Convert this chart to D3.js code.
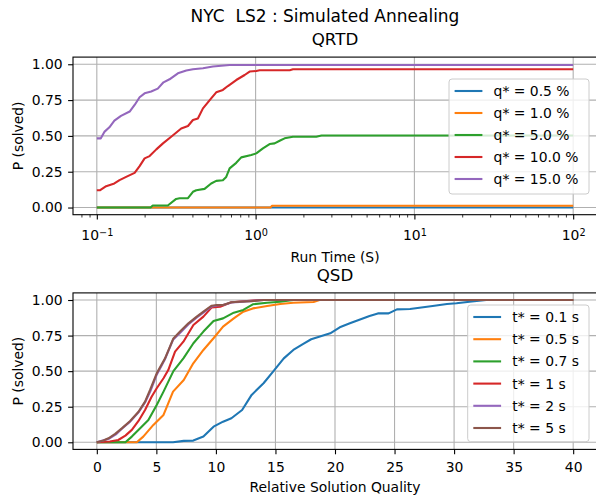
<!DOCTYPE html>
<html>
<head>
<meta charset="utf-8">
<script src="https://cdn.jsdelivr.net/npm/d3@7"></script>
<style>
  body { margin: 0; background: #fff; }
  svg { display: block; font-family: "DejaVu Sans", sans-serif; }
</style>
</head>
<body>
<div id="content"></div>
<script>
// ---- data ----
// QRTD : [run time (s), P(solved)]
const qLabels = ["q* = 0.5 %", "q* = 1.0 %", "q* = 5.0 %", "q* = 10.0 %", "q* = 15.0 %"]
const q05 = [[0.1, 0], [100, 0]]
const q10 = [[0.1, 0], [1.24, 0], [1.27, 0.012], [100, 0.012]]
const q50 = [[0.1, 0], [0.218, 0], [0.225, 0.014], [0.28, 0.014], [0.316, 0.06], [0.332, 0.065], [0.375, 0.065],
    [0.403, 0.11], [0.423, 0.121], [0.477, 0.13], [0.525, 0.168], [0.565, 0.186], [0.622, 0.191], [0.653, 0.214],
    [0.686, 0.273], [0.755, 0.312], [0.812, 0.35], [0.939, 0.366], [1.01, 0.378], [1.112, 0.413], [1.225, 0.443],
    [1.317, 0.448], [1.417, 0.466], [1.523, 0.483], [1.719, 0.494], [2.41, 0.494], [2.6, 0.503], [100, 0.503]]
const q100 = [[0.1, 0.121], [0.105, 0.121], [0.1145, 0.149], [0.129, 0.168], [0.139, 0.191], [0.153, 0.214],
    [0.173, 0.242], [0.186, 0.289], [0.2, 0.343], [0.215, 0.359], [0.237, 0.406], [0.261, 0.448], [0.294, 0.494],
    [0.34, 0.552], [0.375, 0.569], [0.403, 0.611], [0.433, 0.622], [0.466, 0.692], [0.525, 0.762], [0.565, 0.804],
    [0.622, 0.821], [0.669, 0.848], [0.755, 0.89], [0.853, 0.925], [0.917, 0.949], [1.01, 0.953], [1.06, 0.958],
    [1.64, 0.958], [1.72, 0.965], [100, 0.965]]
const q150 = [[0.1, 0.483], [0.106, 0.483], [0.112, 0.53], [0.12, 0.56], [0.129, 0.606], [0.142, 0.64],
    [0.161, 0.67], [0.173, 0.716], [0.186, 0.77], [0.2, 0.797], [0.22, 0.81], [0.242, 0.83], [0.263, 0.874],
    [0.287, 0.895], [0.324, 0.937], [0.366, 0.956], [0.403, 0.965], [0.466, 0.972], [0.538, 0.984],
    [0.686, 0.995], [100, 0.995]]
const timeTicks = [0.1, 1, 10, 100]
const timeTickExp = ["\u22121", "0", "1", "2"]

// QSD : [relative solution quality, P(solved)]
const tLabels = ["t* = 0.1 s", "t* = 0.5 s", "t* = 0.7 s", "t* = 1 s", "t* = 2 s", "t* = 5 s"]
const t01 = [[0, 0], [6.4, 0], [7.3, 0.01], [8.1, 0.012], [8.95, 0.04], [9.8, 0.11], [10.6, 0.145], [11.3, 0.169],
    [12.2, 0.227], [13.0, 0.333], [14.0, 0.415], [14.8, 0.497], [15.7, 0.59], [16.5, 0.649], [17.3, 0.69],
    [18.0, 0.724], [19.6, 0.766], [20.4, 0.808], [21.25, 0.836], [22.9, 0.888], [23.6, 0.906], [24.5, 0.906],
    [25.2, 0.934], [26.3, 0.937], [28.2, 0.958], [29.4, 0.972], [30.2, 0.977], [31.3, 0.988], [32.7, 1], [40, 1]]
const t05 = [[0, 0], [3.36, 0], [3.9, 0.04], [4.75, 0.122], [5.6, 0.192], [6.4, 0.356], [7.3, 0.438], [8.1, 0.555],
    [8.95, 0.649], [9.8, 0.731], [10.6, 0.813], [11.5, 0.871], [12.3, 0.918], [13.1, 0.941], [14.3, 0.958],
    [15.4, 0.972], [16.5, 0.981], [18.2, 0.986], [18.7, 1], [40, 1]]
const t07 = [[0, 0], [2.4, 0], [2.94, 0.04], [3.64, 0.098], [4.33, 0.157], [5.03, 0.262], [5.6, 0.356], [6.43, 0.5],
    [7.27, 0.59], [8.11, 0.696], [8.95, 0.778], [9.8, 0.852], [10.6, 0.871], [11.5, 0.911], [12.3, 0.93],
    [13.1, 0.97], [14.3, 0.981], [15.4, 0.988], [16.5, 1], [40, 1]]
const t1 = [[0, 0], [1.1, 0.005], [1.8, 0.016], [2.4, 0.047], [2.94, 0.087], [3.5, 0.15], [4.05, 0.227], [4.6, 0.32],
    [5.03, 0.38], [5.6, 0.45], [6.0, 0.508], [6.57, 0.637], [7.27, 0.707], [8.11, 0.824], [8.95, 0.883],
    [9.65, 0.948], [10.35, 0.953], [11.3, 0.984], [12.6, 0.993], [13.7, 1], [40, 1]]
const t2 = [[0, 0], [1, 0.025], [1.6, 0.055], [2.1, 0.095], [2.8, 0.145], [3.5, 0.21], [4.05, 0.28], [4.5, 0.36],
    [5.03, 0.475], [5.7, 0.58], [6.4, 0.72], [7.0, 0.77], [7.7, 0.83], [8.4, 0.878], [9.0, 0.915], [9.65, 0.955],
    [10.1, 0.962], [10.6, 0.965], [11.3, 0.982], [12, 0.987], [14, 1], [40, 1]]
const t5 = [[0, 0], [0.56, 0.012], [0.98, 0.028], [1.54, 0.059], [2.1, 0.098], [2.8, 0.15], [3.5, 0.215],
    [4.05, 0.286], [4.47, 0.368], [5.03, 0.485], [5.73, 0.59], [6.43, 0.73], [6.99, 0.778], [7.69, 0.836],
    [8.39, 0.883], [8.95, 0.918], [9.65, 0.96], [10.07, 0.965], [10.6, 0.965], [11.3, 0.984], [12, 0.988],
    [13, 0.992], [14, 1], [40, 1]]
const qualityTicks = [0, 5, 10, 15, 20, 25, 30, 35, 40]
const probTicks = [0, 0.25, 0.5, 0.75, 1]

const colors = ["#1f77b4", "#ff7f0e", "#2ca02c", "#d62728", "#9467bd", "#8c564b"]

// ---- layout ----
const outerWidth = 596
const outerHeight = 497
const fs = 13.9
const left = 73, right = 597
const topBox = {top: 57.1, bottom: 214.7}
const botBox = {top: 292.9, bottom: 449.4}

const svg = d3.select("#content").append("svg")
    .attr("width", outerWidth)
    .attr("height", outerHeight)

svg.append("text")
    .attr("x", 325).attr("y", 21.5)
    .attr("text-anchor", "middle")
    .style("font-size", "17px")
    .style("white-space", "pre")
    .text("NYC  LS2 : Simulated Annealing")

// scales
const xTime = d3.scaleLog().domain([Math.pow(10, -1.15), Math.pow(10, 2.15)]).range([left, right])
const xQual = d3.scaleLinear().domain([-2, 42]).range([left, right])
const yTop = d3.scaleLinear().domain([-0.05, 1.05]).range([topBox.bottom, topBox.top])
const yBot = d3.scaleLinear().domain([-0.05, 1.05]).range([botBox.bottom, botBox.top])

function clip(id, box) {
    svg.append("clipPath").attr("id", id)
      .append("rect")
        .attr("x", left).attr("y", box.top)
        .attr("width", right - left).attr("height", box.bottom - box.top)
}
clip("clipTop", topBox)
clip("clipBot", botBox)

function grid(xScale, xVals, yScale, box) {
    const g = svg.append("g")
        .attr("stroke", "#b0b0b0")
        .attr("stroke-width", 1.1)
    g.selectAll(".gx").data(xVals).enter().append("line")
        .attr("x1", d => xScale(d)).attr("x2", d => xScale(d))
        .attr("y1", box.top).attr("y2", box.bottom)
    g.selectAll(".gy").data(probTicks).enter().append("line")
        .attr("x1", left).attr("x2", right)
        .attr("y1", d => yScale(d)).attr("y2", d => yScale(d))
}
grid(xTime, timeTicks, yTop, topBox)
grid(xQual, qualityTicks, yBot, botBox)

function lines(series, xScale, yScale, clipId) {
    const line = d3.line().x(d => xScale(d[0])).y(d => yScale(d[1]))
    svg.append("g").attr("clip-path", `url(#${clipId})`)
      .selectAll("path")
      .data(series)
      .enter().append("path")
        .attr("d", line)
        .attr("fill", "none")
        .attr("stroke", (d, i) => colors[i])
        .attr("stroke-width", 2.1)
        .attr("stroke-linejoin", "round")
}
lines([q05, q10, q50, q100, q150], xTime, yTop, "clipTop")
lines([t01, t05, t07, t1, t2, t5], xQual, yBot, "clipBot")

// frames
function frame(box) {
    svg.append("rect")
        .attr("x", left).attr("y", box.top)
        .attr("width", right - left).attr("height", box.bottom - box.top)
        .attr("fill", "none")
        .attr("stroke", "#000")
        .attr("stroke-width", 1.1)
}
frame(topBox)
frame(botBox)

// axes
function styleAxis(sel) {
    sel.select(".domain").remove()
    sel.selectAll(".tick line").attr("stroke", "#000").attr("stroke-width", 1.1)
    sel.selectAll("text").style("font-size", fs + "px").attr("fill", "#000").style("font-family", "DejaVu Sans")
}

// top x (log) with minor ticks and superscript labels
const minorTicks = []
for (let e = -2; e <= 2; e++) for (let m = 2; m <= 9; m++) minorTicks.push(m * Math.pow(10, e))
svg.append("g")
    .attr("transform", `translate(0, ${topBox.bottom})`)
    .call(d3.axisBottom(xTime).tickValues(minorTicks.filter(v => v > 0.07 && v < 141)).tickSize(2.8).tickFormat(""))
    .call(g => g.select(".domain").remove())
    .call(g => g.selectAll(".tick line").attr("stroke", "#000").attr("stroke-width", 0.8))

const topX = svg.append("g")
    .attr("transform", `translate(0, ${topBox.bottom})`)
    .call(d3.axisBottom(xTime).tickValues(timeTicks).tickSize(4.9).tickPadding(10.5).tickFormat(""))
    .call(styleAxis)
topX.selectAll(".tick text")
    .attr("dy", "0.71em")
    .each(function(d, i) {
        const t = d3.select(this)
        t.append("tspan").text("10")
        t.append("tspan").attr("dy", "-0.45em").style("font-size", "9.7px").text(timeTickExp[i])
    })

svg.append("g")
    .attr("transform", `translate(0, ${botBox.bottom})`)
    .call(d3.axisBottom(xQual).tickValues(qualityTicks).tickSize(4.9).tickPadding(7.5))
    .call(styleAxis)

svg.append("g")
    .attr("transform", `translate(${left}, 0)`)
    .call(d3.axisLeft(yTop).tickValues(probTicks).tickSize(4.9).tickPadding(5.5).tickFormat(d3.format(".2f")))
    .call(styleAxis)
svg.append("g")
    .attr("transform", `translate(${left}, 0)`)
    .call(d3.axisLeft(yBot).tickValues(probTicks).tickSize(4.9).tickPadding(5.5).tickFormat(d3.format(".2f")))
    .call(styleAxis)

// titles and labels
const cx = (left + right) / 2
function label(x, y, txt, size, rotate) {
    const t = svg.append("text")
        .attr("text-anchor", "middle")
        .style("font-size", size + "px")
        .text(txt)
    if (rotate) t.attr("transform", `translate(${x}, ${y}) rotate(-90)`)
    else t.attr("x", x).attr("y", y)
}
label(cx, 45, "QRTD", 16.7)
label(cx, 280.6, "QSD", 16.7)
label(cx, 262, "Run Time (S)", fs)
label(cx, 492, "Relative Solution Quality", fs)
label(23, (topBox.top + topBox.bottom) / 2, "P (solved)", fs, true)
label(23, (botBox.top + botBox.bottom) / 2, "P (solved)", fs, true)

// legends
function legend(labels, box, firstRow, step) {
    const g = svg.append("g")
    g.append("rect")
        .attr("x", box.x).attr("y", box.y)
        .attr("width", box.w).attr("height", box.h)
        .attr("rx", 3)
        .attr("fill", "#fff").attr("fill-opacity", 0.8)
        .attr("stroke", "#cccccc").attr("stroke-width", 1)
    const row = g.selectAll(".row").data(labels).enter().append("g")
        .attr("transform", (d, i) => `translate(${box.x + 5.6}, ${firstRow + i * step})`)
    row.append("line")
        .attr("x1", 0).attr("x2", 27.8)
        .attr("stroke", (d, i) => colors[i])
        .attr("stroke-width", 2.1)
    row.append("text")
        .attr("x", 39)
        .attr("dy", "0.36em")
        .style("font-size", fs + "px")
        .text(d => d)
}
legend(qLabels, {x: 449, y: 79, w: 140, h: 115}, 91, 22)
legend(tLabels, {x: 467.7, y: 305, w: 121.3, h: 136.7}, 317, 22.2)
</script>
</body>
</html>
